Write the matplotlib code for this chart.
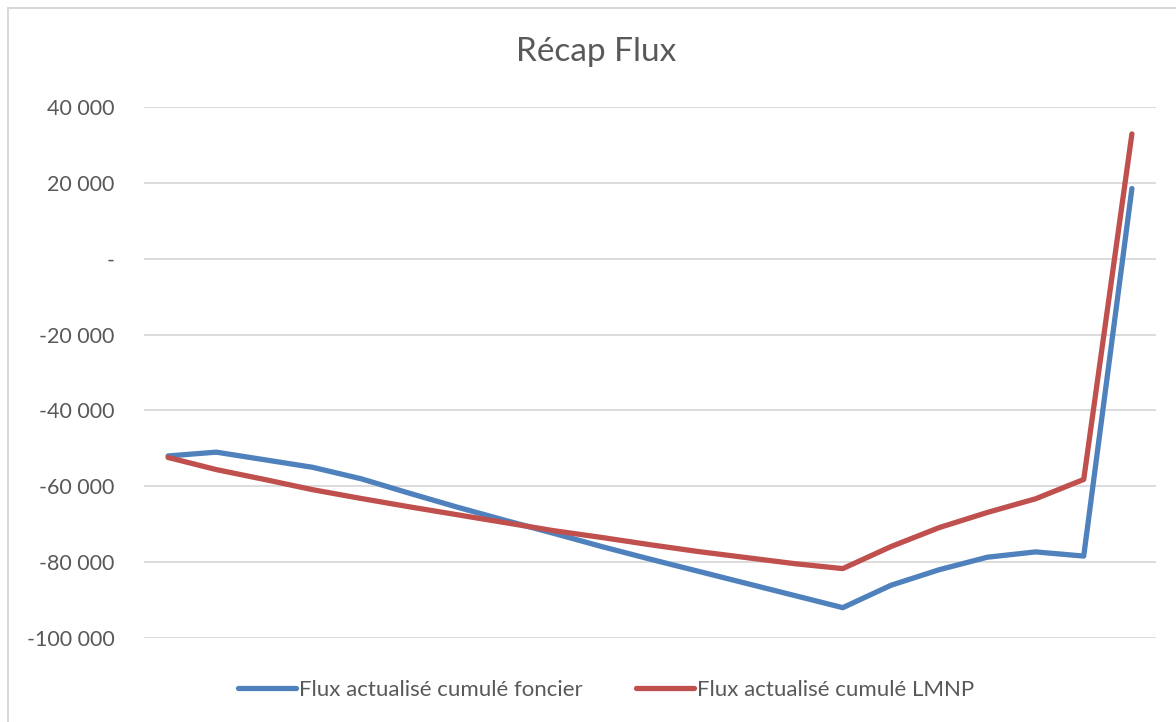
import matplotlib
matplotlib.use('Agg')
import matplotlib.pyplot as plt
from matplotlib.patches import Rectangle
from matplotlib.ticker import FuncFormatter

plt.rcParams['font.family'] = ['Lato', 'DejaVu Sans']

# cumulated discounted cash flows, 21 periods
periods = list(range(21))
flux_foncier = [-52000, -51000, -53000, -55000, -58000, -61800, -65500, -69000,
                -72400, -75900, -79200, -82400, -85600, -88800, -92000, -86100,
                -82000, -78700, -77300, -78400, 18500]
flux_lmnp = [-52400, -55600, -58200, -60900, -63200, -65400, -67500, -69600,
             -71700, -73500, -75400, -77200, -78800, -80400, -81700, -75900,
             -70900, -66900, -63300, -58200, 32900]
y_ticks = [-100000, -80000, -60000, -40000, -20000, 0, 20000, 40000]

BLUE = '#4F81BD'
RED = '#C0504D'
TXT = '#595959'
GRID = '#D9D9D9'


def fmt(v, pos):
    if v == 0:
        return '-'
    return f'{int(round(v)):,}'.replace(',', ' ')


fig = plt.figure(figsize=(11.76, 7.22), dpi=100)
ax = fig.add_axes([144 / 1176, 1 - 638 / 722, (1156 - 144) / 1176, (638 - 107) / 722])

ax.plot(periods, flux_foncier, color=BLUE, lw=3.8, solid_capstyle='round',
        solid_joinstyle='round', label='Flux actualisé cumulé foncier')
ax.plot(periods, flux_lmnp, color=RED, lw=3.8, solid_capstyle='round',
        solid_joinstyle='round', label='Flux actualisé cumulé LMNP')

ax.set_xlim(-0.5, 20.5)
ax.set_ylim(-100000, 40000)
ax.set_yticks(y_ticks)
ax.yaxis.set_major_formatter(FuncFormatter(fmt))
ax.set_xticks([])
ax.tick_params(axis='y', length=0, pad=21, labelsize=15.5, labelcolor=TXT)
ax.grid(True, axis='y', color=GRID, lw=1.3)
ax.set_axisbelow(True)
for s in ax.spines.values():
    s.set_visible(False)

fig.text(596 / 1176, 1 - 52 / 722, 'Récap Flux', ha='center', va='center',
         fontsize=24, color=TXT)

fig.legend(loc='center', bbox_to_anchor=(606 / 1176, 1 - 690 / 722), ncol=2,
           frameon=False, fontsize=16, handlelength=2.6, handletextpad=0.15,
           columnspacing=2.4, labelcolor=TXT)

# chart frame
fig.patches.append(Rectangle((7.5 / 1176, -0.1), 1.2, 1 - 7.5 / 722 + 0.1,
                             transform=fig.transFigure, fill=False,
                             edgecolor=GRID, lw=1.5))

fig.savefig('out.png', dpi=100)
